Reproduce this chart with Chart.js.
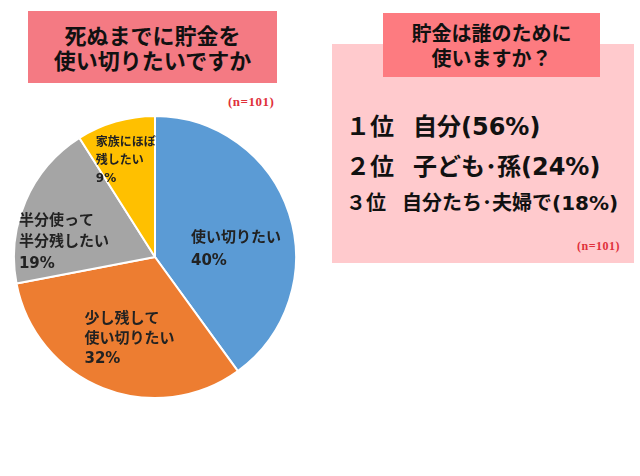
<!DOCTYPE html>
<html lang="ja">
<head>
<meta charset="utf-8">
<script src="https://cdn.jsdelivr.net/npm/chart.js@4/dist/chart.umd.min.js"></script>
<style>
  body { margin: 0; background: #fff; font-family: "Noto Sans CJK JP", "Noto Sans", sans-serif; }
  #page { position: relative; width: 640px; height: 476px; overflow: hidden; }
  .box { position: absolute; box-sizing: border-box; text-align: center; font-weight: 700; color: #111; }
  .n { position: absolute; color: #e0303a; font-family: "Liberation Serif", serif; font-weight: 700; letter-spacing: 0.5px; }
  #pieWrap { position: absolute; left: 13px; top: 115px; width: 284px; height: 284px; }
  .rank { position: absolute; left: 346px; font-family: "DejaVu Sans", "Noto Sans CJK JP", sans-serif; font-weight: 700; color: #111; white-space: nowrap; }
  .rank .place { display: inline-block; font-family: "Noto Sans CJK JP", sans-serif; }
</style>
</head>
<body>
<div id="page">
  <div class="box" style="left:28px; top:11px; width:249px; height:72px; background:#f47a83; font-size:22px; line-height:25px; padding-top:11px;">死ぬまでに貯金を<br>使い切りたいですか</div>
  <div class="n" style="left:228px; top:94px; font-size:13px;">(n=101)</div>
  <div id="pieWrap"><canvas id="pie"></canvas></div>

  <div class="box" style="left:332px; top:44px; width:302px; height:219px; background:#ffcacd;"></div>
  <div class="box" style="left:383px; top:13px; width:217px; height:64px; background:#fd7b80; font-size:20px; line-height:25px; padding-top:7px;">貯金は誰のために<br>使いますか？</div>
  <div id="ranks"></div>
  <div class="n" style="left:577px; top:239px; font-size:12px;">(n=101)</div>
</div>
<script>
// ===== Data =====
const sliceLabels = ['使い切りたい', '少し残して\n使い切りたい', '半分使って\n半分残したい', '家族にほぼ\n残したい'];
const sliceValues = [40, 32, 19, 9];
const sliceColors = ['#5b9bd5', '#ed7d31', '#a5a5a5', '#ffc000'];

const rankPlaces = ['１位', '２位', '３位'];
const rankNames = ['自分', '子ども･孫', '自分たち･夫婦で'];
const rankValues = [56, 24, 18];

// label placement: top-left of text block, in fractions of radius from centre
const labelOffsets = [[0.255, -0.135], [-0.50, 0.44], [-0.965, -0.255], [-0.42, -0.81]];
const labelFonts = [15, 15, 15, 12];
const labelLineHeights = [23, 20, 21.5, 18];

// ===== Ranking text =====
const rankTops = [113, 153, 192];
const rankSizes = [24, 24, 20];
const rankPlaceWidths = [67, 67, 56];
const ranks = document.getElementById('ranks');
rankPlaces.forEach((place, i) => {
  const d = document.createElement('div');
  d.className = 'rank';
  d.style.top = rankTops[i] + 'px';
  d.style.fontSize = rankSizes[i] + 'px';
  d.style.lineHeight = rankSizes[i] + 'px';
  d.innerHTML = `<span class="place" style="width:${rankPlaceWidths[i]}px">${place}</span>${rankNames[i]}(${rankValues[i]}%)`;
  ranks.appendChild(d);
});

// ===== Pie labels =====
const sliceTextPlugin = {
  id: 'sliceText',
  afterDatasetsDraw(chart) {
    const { ctx } = chart;
    const arcs = chart.getDatasetMeta(0).data;
    arcs.forEach((arc, i) => {
      const { x, y, outerRadius } = arc.getProps(['x', 'y', 'outerRadius'], true);
      const lines = sliceLabels[i].split('\n').concat([sliceValues[i] + '%']);
      const left = x + labelOffsets[i][0] * outerRadius;
      const top = y + labelOffsets[i][1] * outerRadius;
      ctx.save();
      ctx.fillStyle = '#222';
      ctx.font = `bold ${labelFonts[i]}px "DejaVu Sans", "Noto Sans CJK JP", sans-serif`;
      ctx.textAlign = 'left';
      ctx.textBaseline = 'middle';
      lines.forEach((line, j) => ctx.fillText(line, left, top + j * labelLineHeights[i]));
      ctx.restore();
    });
  }
};

new Chart(document.getElementById('pie').getContext('2d'), {
  type: 'pie',
  data: {
    labels: sliceLabels,
    datasets: [{
      data: sliceValues,
      backgroundColor: sliceColors,
      borderColor: '#fff',
      borderWidth: 2
    }]
  },
  options: {
    responsive: true,
    maintainAspectRatio: false,
    animation: false,
    layout: { padding: 0 },
    plugins: { legend: { display: false }, tooltip: { enabled: false } }
  },
  plugins: [sliceTextPlugin]
});
</script>
</body>
</html>
